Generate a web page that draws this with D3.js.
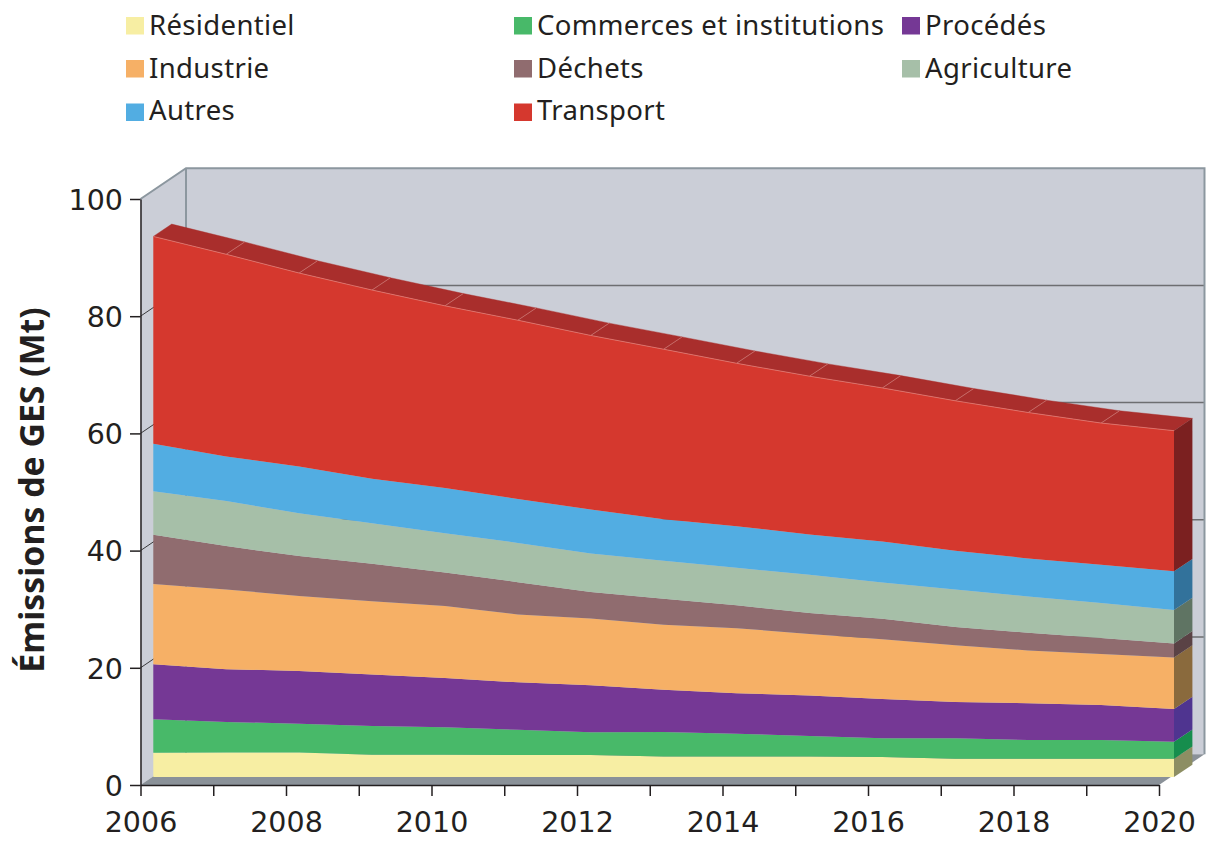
<!DOCTYPE html>
<html>
<head>
<meta charset="utf-8">
<script src="https://cdn.jsdelivr.net/npm/d3@7"></script>
<style>
  html, body { margin: 0; padding: 0; background: #fff; }
  svg { display: block; }
</style>
</head>
<body>
<svg id="chart" width="1209" height="846"></svg>
<script>
const years = [2006, 2007, 2008, 2009, 2010, 2011, 2012, 2013, 2014, 2015, 2016, 2017, 2018, 2019, 2020];

// emissions par secteur (Mt), de bas en haut de la pile
const residentiel = [4.15, 4.2, 4.2, 3.8, 3.8, 3.75, 3.75, 3.5, 3.5, 3.5, 3.4, 3.1, 3.1, 3.1, 3.1];
const commerces = [5.7, 5.2, 4.9, 4.9, 4.7, 4.3, 3.9, 4.2, 3.9, 3.5, 3.2, 3.5, 3.2, 3.2, 2.9];
const procedes = [9.4, 9.0, 9.0, 8.8, 8.4, 8.1, 8.0, 7.2, 6.9, 6.9, 6.7, 6.2, 6.3, 6.0, 5.6];
const industrie = [13.7, 13.6, 12.8, 12.5, 12.3, 11.6, 11.4, 11.1, 11.1, 10.5, 10.2, 9.7, 9.0, 8.7, 8.8];
const dechets = [8.4, 7.4, 6.8, 6.4, 5.7, 5.5, 4.5, 4.4, 3.9, 3.6, 3.5, 3.1, 3.0, 2.7, 2.4];
const agriculture = [7.4, 7.7, 7.3, 6.9, 6.7, 6.7, 6.6, 6.5, 6.4, 6.5, 6.2, 6.4, 6.2, 6.0, 5.7];
const autres = [8.1, 7.6, 8.0, 7.6, 7.7, 7.5, 7.5, 7.1, 7.1, 6.9, 7.0, 6.6, 6.5, 6.5, 6.6];
const transport = [35.4, 34.5, 33.0, 32.2, 31.1, 30.5, 29.7, 29.0, 27.8, 27.0, 26.2, 25.6, 24.9, 24.2, 24.0];

const seriesKeys = ["residentiel", "commerces", "procedes", "industrie", "dechets", "agriculture", "autres", "transport"];
const seriesValues = { residentiel, commerces, procedes, industrie, dechets, agriculture, autres, transport };
const frontColors = ["#f7eea3", "#48b969", "#753895", "#f6b066", "#906c6f", "#a6bfa8", "#52ade2", "#d5382e"];
const sideColors = ["#8d8e63", "#168d4d", "#4f3490", "#8a6a3d", "#5a4245", "#5f7463", "#32729b", "#7b2020"];
const topColor = "#a92e2c";

const legendLabels = [
  ["Résidentiel", "Commerces et institutions", "Procédés"],
  ["Industrie", "Déchets", "Agriculture"],
  ["Autres", "Transport"]
];
const legendColors = [
  ["#f7eea3", "#48b969", "#753895"],
  ["#f6b066", "#906c6f", "#a6bfa8"],
  ["#52ade2", "#d5382e"]
];

const yTicks = [0, 20, 40, 60, 80, 100];
const yTitle = "Émissions de GES (Mt)";

const svg = d3.select("#chart");
const tickFont = "'DejaVu Sans', sans-serif";
const textFont = "'Noto Sans', sans-serif";
const inkColor = "#231f20";

// axes du plan avant
const x = d3.scaleLinear().domain([2006, 2020]).range([140.5, 1159]);
const y = d3.scaleLinear().domain([0, 100]).range([785, 199]);

// plan de la pile, un peu en retrait, et decalage de son epaisseur
const xFront = d3.scaleLinear().domain([2006, 2020]).range([153.3, 1174]);
const yFront = d3.scaleLinear().domain([0, 100]).range([777, 191]);
const depthX = 18.4, depthY = -12.3;

// decalage du mur du fond
const wallX = 45.5, wallY = -30.8;

const table = years.map((year, i) => {
  const row = { year };
  seriesKeys.forEach(k => { row[k] = seriesValues[k][i]; });
  return row;
});
const stacked = d3.stack().keys(seriesKeys)(table);

const poly = pts => pts.map(p => p.join(",")).join(" ");

// murs
const wallFill = "#cbced7", edgeColor = "#8c979f", floorFill = "#8a9198";
const x0 = x(2006), x1 = x(2020), yBottom = y(0), yTop = y(100);

svg.append("polygon")
  .attr("points", poly([[x0 + wallX, yTop + wallY], [x1 + wallX, yTop + wallY], [x1 + wallX, yBottom + wallY], [x0 + wallX, yBottom + wallY]]))
  .attr("fill", wallFill);
svg.append("polygon")
  .attr("points", poly([[x0, yTop], [x0 + wallX, yTop + wallY], [x0 + wallX, yBottom + wallY], [x0, yBottom]]))
  .attr("fill", wallFill);
svg.append("polygon")
  .attr("points", poly([[x0, yBottom], [x0 + wallX, yBottom + wallY], [x1 + wallX, yBottom + wallY], [x1, yBottom]]))
  .attr("fill", floorFill);

// grille
yTicks.filter(d => d > 0 && d < 100).forEach(d => {
  svg.append("line")
    .attr("x1", x0 + wallX).attr("x2", x1 + wallX)
    .attr("y1", y(d) + wallY).attr("y2", y(d) + wallY)
    .attr("stroke", "#6d6e71").attr("stroke-width", 1.5);
  svg.append("line")
    .attr("x1", x0).attr("x2", x0 + wallX)
    .attr("y1", y(d)).attr("y2", y(d) + wallY)
    .attr("stroke", "#3a3a3c").attr("stroke-width", 1);
});

// aretes des murs
svg.append("polyline")
  .attr("points", poly([[x0, yTop], [x0 + wallX, yTop + wallY], [x1 + wallX, yTop + wallY], [x1 + wallX, yBottom + wallY]]))
  .attr("fill", "none").attr("stroke", edgeColor).attr("stroke-width", 2);
svg.append("line")
  .attr("x1", x0 + wallX).attr("x2", x0 + wallX)
  .attr("y1", yTop + wallY).attr("y2", yBottom + wallY)
  .attr("stroke", edgeColor).attr("stroke-width", 2);

// dessus de la pile
const topLayer = stacked[stacked.length - 1];
topLayer.forEach((d, i) => {
  if (i === topLayer.length - 1) return;
  const a = [xFront(years[i]), yFront(d[1])];
  const b = [xFront(years[i + 1]), yFront(topLayer[i + 1][1])];
  svg.append("polygon")
    .attr("points", poly([a, b, [b[0] + depthX, b[1] + depthY], [a[0] + depthX, a[1] + depthY]]))
    .attr("fill", topColor).attr("stroke", topColor).attr("stroke-width", 0.4);
  if (i > 0) {
    svg.append("line")
      .attr("x1", a[0]).attr("y1", a[1])
      .attr("x2", a[0] + depthX).attr("y2", a[1] + depthY)
      .attr("stroke", "#d98a84").attr("stroke-width", 0.6);
  }
});

// faces avant
const area = d3.area()
  .x((d, i) => xFront(years[i]))
  .y0(d => yFront(d[0]))
  .y1(d => yFront(d[1]));

svg.append("g").selectAll("path")
  .data(stacked)
  .join("path")
  .attr("d", area)
  .attr("fill", (d, i) => frontColors[i]);

const topLine = d3.line().x((d, i) => xFront(years[i])).y(d => yFront(d[1]));
svg.append("path")
  .datum(topLayer)
  .attr("d", topLine)
  .attr("fill", "none").attr("stroke", "#e8837a").attr("stroke-width", 0.7);

// face droite
const last = years.length - 1;
svg.append("g").selectAll("polygon")
  .data(stacked)
  .join("polygon")
  .attr("points", d => {
    const xr = xFront(years[last]);
    const a = yFront(d[last][0]), b = yFront(d[last][1]);
    return poly([[xr, a], [xr, b], [xr + depthX, b + depthY], [xr + depthX, a + depthY]]);
  })
  .attr("fill", (d, i) => sideColors[i]);

// axes
const styleAxis = g => {
  g.selectAll(".domain").attr("stroke", inkColor).attr("stroke-width", 1.5);
  g.selectAll(".tick line").attr("stroke", inkColor).attr("stroke-width", 1.5);
  g.selectAll("text").attr("fill", inkColor).attr("font-family", tickFont).attr("font-size", 28.5);
};

svg.append("g")
  .attr("transform", `translate(0,${yBottom})`)
  .call(d3.axisBottom(x).tickValues(years).tickFormat(d => d % 2 === 0 ? d3.format("d")(d) : "").tickSize(11).tickSizeOuter(0).tickPadding(15.5))
  .call(styleAxis);

svg.append("g")
  .attr("transform", `translate(${x0},0)`)
  .call(d3.axisLeft(y).tickValues(yTicks).tickSize(10.5).tickSizeOuter(0).tickPadding(7))
  .call(styleAxis)
  .selectAll("text").attr("dy", "0.36em");

svg.append("text")
  .attr("transform", "translate(44,490) rotate(-90)")
  .attr("text-anchor", "middle")
  .attr("font-family", textFont)
  .attr("font-weight", 700)
  .attr("font-size", 33.8)
  .attr("fill", inkColor)
  .text(yTitle);

// legende
const legendX = [126, 514, 902];
const legendY = [17, 60, 103.5];
const legendBaseline = [35, 78, 120];
legendLabels.forEach((row, r) => {
  row.forEach((label, c) => {
    svg.append("rect")
      .attr("x", legendX[c]).attr("y", legendY[r])
      .attr("width", 18).attr("height", 17.5)
      .attr("fill", legendColors[r][c]);
    svg.append("text")
      .attr("x", legendX[c] + 23).attr("y", legendBaseline[r])
      .attr("font-family", textFont)
      .attr("font-size", 27.5)
      .attr("letter-spacing", 0.35)
      .attr("fill", inkColor)
      .text(label);
  });
});
</script>
</body>
</html>
